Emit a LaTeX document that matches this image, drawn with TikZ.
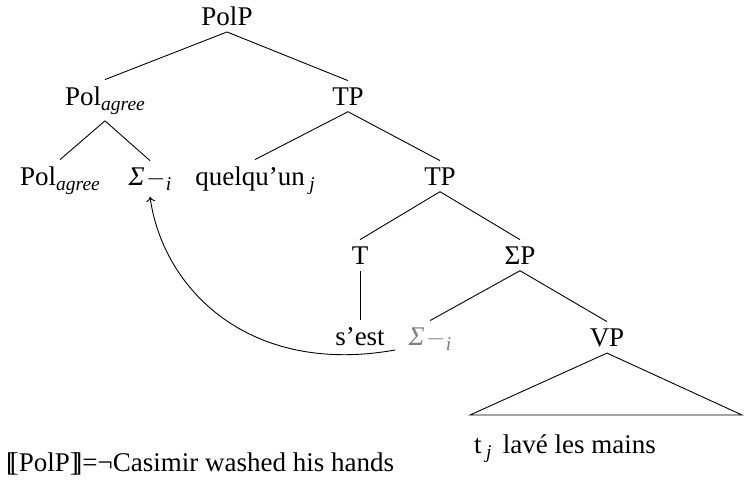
\documentclass[tikz,border=0pt]{standalone}
\usepackage{fontspec}
\setmainfont{Liberation Serif}
\usetikzlibrary{arrows.meta}
\newcommand\lsub[1]{\raisebox{-5pt}{\fontsize{19.5}{20}\selectfont\textit{#1}}}
\newcommand\mminus{\kern0.05em$-$\kern0.02em}
\begin{document}
\begin{tikzpicture}[x=1pt,y=-1pt,
  font=\fontsize{27}{32}\selectfont,
  lab/.style={anchor=base, inner sep=6.5pt},
  br/.style={draw, line width=0.9pt},
  plain/.style={anchor=base west, inner sep=0pt}]
\useasboundingbox (0,0) rectangle (746,491);
% nodes
\node[lab] (polp) at (227,25) {PolP};
\node[lab] (pola) at (105,105) {Pol\lsub{agree}};
\node[lab] (tp1) at (348,105) {TP};
\node[lab] (polb) at (60,185) {Pol\lsub{agree}};
\node[lab] (sig1) at (150,185) {\textit{Σ}\mminus\lsub{i}};
\node[lab] (quel) at (255,185) {quelqu’un\,\lsub{j}};
\node[lab] (tp2) at (440,185) {TP};
\node[lab] (t) at (360,264) {T};
\node[lab] (sigp) at (520,264) {ΣP};
\node[lab] (sest) at (360,345) {s’est};
\node[lab, text=gray] (sig2) at (430,345) {\textit{Σ}\mminus\lsub{i}};
\node[lab] (vp) at (607,346) {VP};
% branches
\draw[br] (polp.south) -- (pola.north);
\draw[br] (polp.south) -- (tp1.north);
\draw[br] (pola.south) -- (polb.north);
\draw[br] (pola.south) -- (sig1.north);
\draw[br] (tp1.south) -- (quel.north);
\draw[br] (tp1.south) -- (tp2.north);
\draw[br] (tp2.south) -- (t.north);
\draw[br] (tp2.south) -- (sigp.north);
\draw[br] (t.south) -- (sest.north);
\draw[br] (sigp.south) -- (sig2.north);
\draw[br] (sigp.south) -- (vp.north);
% roof
\coordinate (rl) at (470,415);
\coordinate (rr) at (742,415);
\draw[br, line join=miter] (vp.south) -- (rl) -- (rr) -- cycle;
\node[plain] (yield) at (474,453) {t\,\lsub{j}\, lavé les mains};
% movement arrow
\coordinate (arrs) at (395,350);
\draw[br, -{To[length=5pt,width=9pt]}] (arrs) .. controls (250,376) and (163,290) .. (sig1.south);
% denotation
\node[plain] (den) at (6,471) {[\kern-0.2em[PolP]\kern-0.2em]=¬Casimir washed his hands};
\end{tikzpicture}
\end{document}
